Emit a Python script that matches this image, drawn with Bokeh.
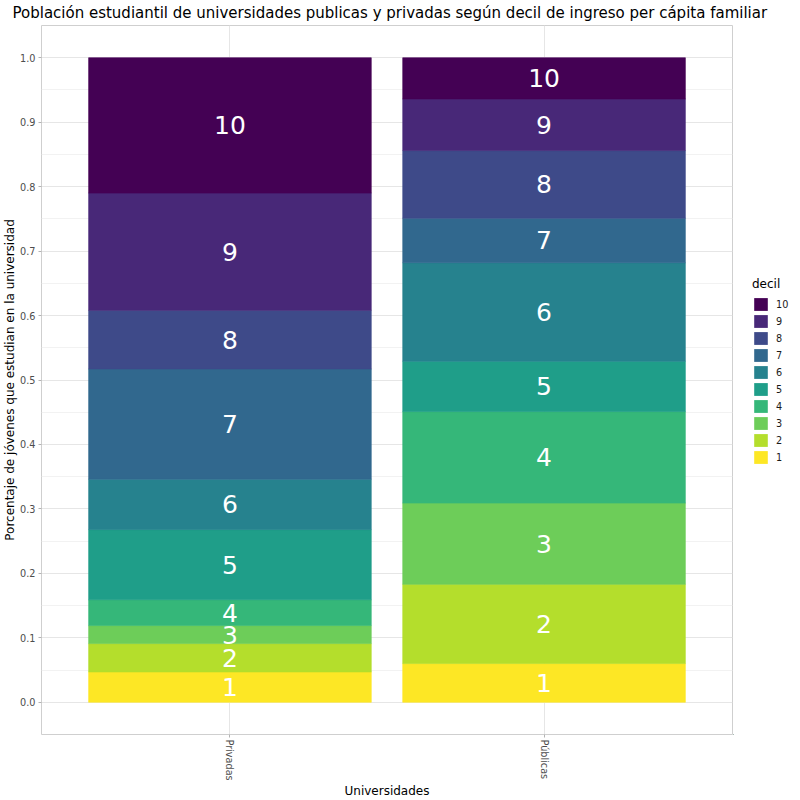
import numpy as np
from bokeh.plotting import figure
from bokeh.layouts import column, row
from bokeh.models import (ColumnDataSource, FactorRange, Range1d, FixedTicker,
                          PrintfTickFormatter, Legend, LegendItem, Label)
from bokeh.core.properties import value
from bokeh.embed import file_html
from bokeh.resources import INLINE

# ---------------- data ----------------
universidades = ["Privadas", "Públicas"]
deciles = ["1", "2", "3", "4", "5", "6", "7", "8", "9", "10"]
# share of students per income decile (each bar sums to 1)
privadas = [0.047, 0.044, 0.028, 0.040, 0.109, 0.078, 0.171, 0.091, 0.182, 0.210]
publicas = [0.060, 0.123, 0.126, 0.142, 0.078, 0.153, 0.069, 0.105, 0.080, 0.064]
y_ticks = [0.0, 0.1, 0.2, 0.3, 0.4, 0.5, 0.6, 0.7, 0.8, 0.9, 1.0]
y_minor = [0.05, 0.15, 0.25, 0.35, 0.45, 0.55, 0.65, 0.75, 0.85, 0.95]
colors = ["#FDE725", "#B4DE2C", "#6DCD59", "#35B779", "#1F9E89",
          "#26828E", "#31688E", "#3E4A89", "#482878", "#440154"]

title = ("Población estudiantil de universidades publicas y privadas "
         "según decil de ingreso per cápita familiar")
FONT = "DejaVu Sans"

# ---------------- title strip ----------------
t = figure(width=800, height=25, toolbar_location=None, output_backend="svg",
           x_axis_location=None, y_axis_location=None, min_border=0,
           x_range=Range1d(0, 1), y_range=Range1d(0, 1))
t.outline_line_color = None
t.grid.visible = False
t.add_layout(Label(x=12, y=13, x_units="screen", y_units="screen", text=title,
                   text_font=FONT, text_font_size="15px", text_color="black",
                   text_align="left", text_baseline="middle"))

# ---------------- main plot ----------------
p = figure(width=733, height=775,
           x_range=FactorRange(factors=universidades, range_padding=0.1),
           y_range=Range1d(-0.05, 1.05),
           output_backend="svg", toolbar_location=None,
           min_border_left=0, min_border_top=0, min_border_bottom=0,
           min_border_right=1)

src = ColumnDataSource(dict(uni=universidades,
                            **{d: [privadas[i], publicas[i]] for i, d in enumerate(deciles)}))
rs = p.vbar_stack(deciles, x="uni", width=0.9, fill_color=colors,
                  line_color=colors, line_width=0.6, source=src)

vals = np.array([privadas, publicas])
cum = np.cumsum(vals, axis=1)
mid = cum - vals / 2
lab_src = ColumnDataSource(dict(
    x=[u for u in universidades for _ in deciles],
    y=mid.flatten(),
    t=deciles * 2))
p.text(x="x", y="y", text="t", source=lab_src, text_color="white",
       text_font=value(FONT), text_font_size="25px",
       text_align="center", text_baseline="middle")

p.outline_line_color = "#CFCFCF"
p.outline_line_width = 1
p.background_fill_color = "white"

p.yaxis.ticker = FixedTicker(ticks=y_ticks, minor_ticks=y_minor)
p.yaxis.formatter = PrintfTickFormatter(format="%.1f")
p.ygrid.grid_line_color = "#E6E6E6"
p.ygrid.minor_grid_line_color = "#F2F2F2"
p.xgrid.grid_line_color = "#E6E6E6"

for ax in (p.xaxis[0], p.yaxis[0]):
    ax.axis_line_color = None
    ax.major_tick_line_color = "#B3B3B3"
    ax.major_tick_out = 3
    ax.major_tick_in = 0
    ax.minor_tick_line_color = None
    ax.major_label_text_font = FONT
    ax.major_label_text_font_size = "9.7px"
    ax.major_label_text_color = "#4D4D4D"
    ax.major_label_standoff = 2
    ax.axis_label_text_font = FONT
    ax.axis_label_text_font_size = "12px"
    ax.axis_label_text_font_style = "normal"
    ax.axis_label_text_color = "black"
    ax.axis_label_standoff = 0

p.xaxis.axis_label = "Universidades"
p.yaxis.axis_label = "Porcentaje de jóvenes que estudian en la universidad"
p.xaxis.major_label_orientation = "vertical"

# ---------------- legend strip ----------------
q = figure(width=67, height=775, toolbar_location=None, output_backend="svg",
           x_axis_location=None, y_axis_location=None, min_border=0,
           x_range=Range1d(0, 1), y_range=Range1d(0, 1))
q.outline_line_color = None
q.grid.visible = False
# legend-key renderers kept entirely outside the visible range
key_renderers = [q.vbar(x=[-5], bottom=[-5], top=[-4], width=0.9,
                        fill_color=c, line_color=None)
                 for c in colors]
items = [LegendItem(label=d, renderers=[key_renderers[i]])
         for i, d in enumerate(deciles)][::-1]
legend = Legend(items=items, location=(19, 269), title="decil",
                title_text_font=FONT, title_text_font_size="12px",
                title_text_font_style="normal", title_text_color="black",
                title_standoff=5,
                label_text_font=FONT, label_text_font_size="9.7px",
                label_text_color="#1A1A1A",
                glyph_width=17, glyph_height=16, label_height=16, label_width=0,
                spacing=1, label_standoff=7, padding=0, margin=0,
                border_line_color=None, background_fill_alpha=0)
q.add_layout(legend, "center")

layout = column(t, row(p, q, spacing=0), spacing=0)
open("out.html", "w").write(file_html(layout, INLINE))
